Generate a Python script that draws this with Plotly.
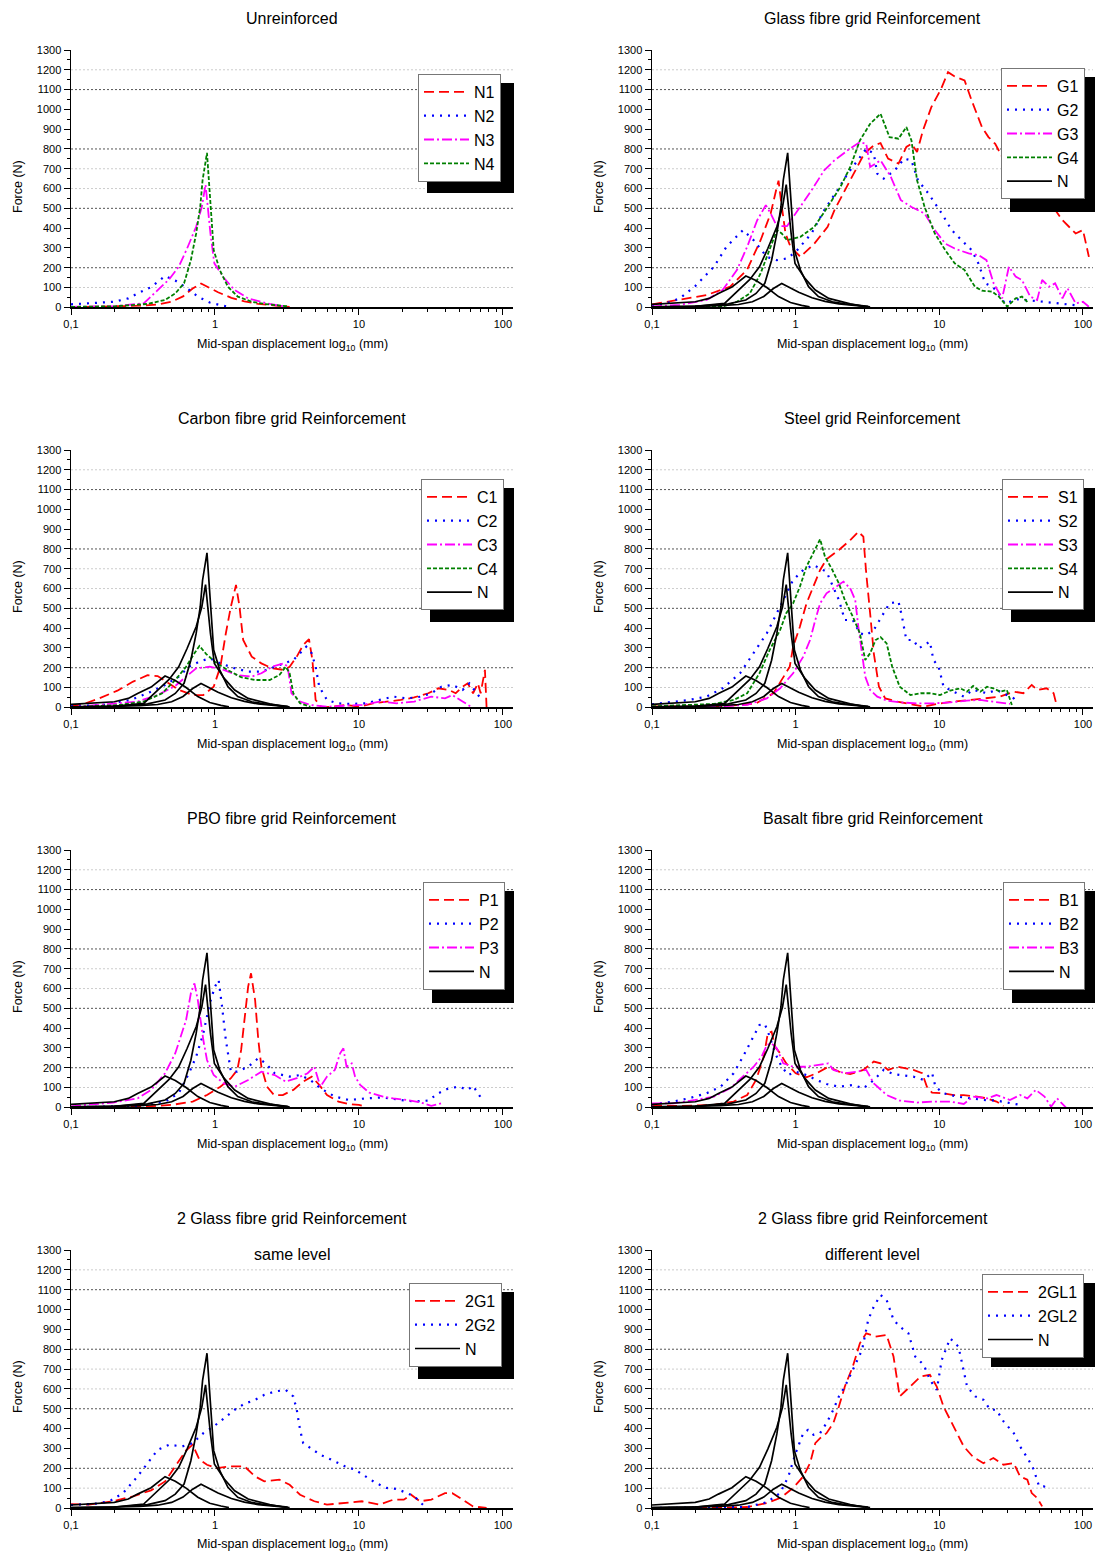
import plotly.graph_objects as go

W, H = 1099, 1559
FONT = "Liberation Sans, Arial, sans-serif"

# ---------------- data (displacement mm, force N) ----------------
N1_X = [0.1, 0.2, 0.3, 0.4, 0.5, 0.6, 0.7, 0.8, 0.9, 1.05, 1.3, 1.6, 2.0, 2.5, 3.3]
N1_Y = [0, 3, 8, 14, 28, 55, 95, 120, 102, 76, 48, 30, 17, 10, 2]
N2_X = [0.1, 0.14, 0.2, 0.25, 0.29, 0.36, 0.45, 0.53, 0.63, 0.76, 0.92, 1.1, 1.25]
N2_Y = [15, 20, 28, 45, 70, 102, 158, 135, 100, 54, 24, 10, 2]
N3_X = [0.1, 0.2, 0.32, 0.38, 0.48, 0.56, 0.64, 0.74, 0.81, 0.86, 0.9, 0.93, 0.99, 1.16, 1.37, 1.7, 2.4, 3.0]
N3_Y = [2, 5, 20, 70, 141, 205, 297, 407, 507, 620, 474, 373, 222, 146, 87, 45, 17, 5]
N4_X = [0.1, 0.2, 0.34, 0.45, 0.53, 0.61, 0.68, 0.74, 0.79, 0.82, 0.88, 0.91, 0.94, 0.98, 1.08, 1.23, 1.44, 1.8, 2.2, 2.6, 3.2]
N4_Y = [2, 5, 17, 37, 70, 121, 238, 373, 507, 642, 780, 642, 474, 289, 188, 104, 54, 28, 17, 12, 5]

G1_X = [0.1, 0.156, 0.24, 0.35, 0.46, 0.57, 0.67, 0.74, 0.76, 0.79, 0.85, 0.92, 1.08, 1.35, 1.67, 1.86, 2.2, 2.6, 3.0, 3.5, 3.9, 4.4, 5.2, 5.9, 6.4, 7.0, 7.7, 8.8, 10.3, 11.5, 12.8, 15, 16.8, 19.8, 22, 24.5, 27.4, 35, 45, 55, 62, 72, 80, 89, 100, 110]
G1_Y = [15, 37, 62, 104, 191, 339, 474, 608, 640, 541, 373, 306, 255, 322, 407, 490, 591, 692, 776, 818, 830, 751, 726, 810, 826, 785, 894, 1011, 1104, 1188, 1166, 1146, 1045, 911, 860, 826, 760, 690, 600, 530, 507, 440, 407, 373, 390, 255]
G2_X = [0.1, 0.126, 0.156, 0.2, 0.27, 0.33, 0.43, 0.51, 0.63, 0.74, 0.87, 1.0, 1.29, 1.58, 1.95, 2.3, 2.7, 3.1, 3.5, 3.7, 4.1, 4.9, 5.7, 6.4, 7.1, 8.4, 10.4, 12.2, 14.3, 16.8, 18.7, 20.9, 23.4, 26, 28.5, 35, 50, 70, 90]
G2_Y = [10, 20, 45, 107, 205, 306, 390, 339, 255, 238, 247, 280, 373, 490, 591, 675, 742, 801, 776, 675, 650, 692, 751, 742, 642, 575, 474, 390, 339, 289, 222, 121, 104, 70, 20, 40, 30, 20, 10]
G3_X = [0.1, 0.156, 0.24, 0.31, 0.39, 0.46, 0.54, 0.62, 0.67, 0.74, 0.87, 1.0, 1.29, 1.58, 1.86, 2.3, 2.8, 3.1, 3.3, 3.9, 4.6, 5.4, 6.4, 7.9, 9.3, 11, 12.8, 16, 18.7, 21.3, 23.9, 27.4, 30.5, 34, 37.6, 43, 48, 52, 58, 64, 72, 78, 89, 100, 110]
G3_Y = [5, 12, 37, 87, 188, 306, 440, 516, 474, 410, 410, 474, 591, 692, 742, 793, 835, 826, 709, 742, 659, 541, 507, 474, 390, 322, 297, 272, 264, 238, 121, 45, 205, 155, 138, 54, 37, 138, 104, 121, 45, 96, 20, 28, 3]
G4_X = [0.1, 0.31, 0.39, 0.48, 0.57, 0.67, 0.74, 0.8, 0.87, 1.08, 1.35, 1.67, 2.05, 2.4, 2.8, 3.3, 3.9, 4.5, 5.2, 5.9, 6.4, 7.0, 7.9, 9.3, 11, 12.8, 15, 17.7, 19.8, 23.4, 26, 29.7, 34, 37.6, 42]
G4_Y = [0, 3, 28, 70, 171, 306, 390, 373, 339, 356, 407, 507, 608, 709, 843, 927, 978, 860, 852, 911, 843, 642, 507, 373, 289, 222, 188, 104, 84, 79, 54, 3, 45, 54, 20]

C1_X = [0.1, 0.126, 0.157, 0.21, 0.27, 0.34, 0.4, 0.47, 0.56, 0.7, 0.83, 0.98, 1.09, 1.19, 1.29, 1.4, 1.48, 1.57, 1.8, 2.1, 2.5, 3.0, 3.3, 3.7, 4.1, 4.5, 4.75, 5.0, 5.5, 6.4, 8.0, 10, 12.5, 15.6, 19.5, 24.2, 30.3, 35.6, 42, 47, 52.5, 57, 62, 67, 70, 75, 77]
C1_Y = [5, 20, 45, 84, 130, 162, 158, 125, 88, 62, 62, 104, 205, 374, 509, 618, 509, 340, 256, 222, 197, 189, 205, 256, 315, 344, 239, 37, 0, 3, 12, 3, 20, 29, 37, 50, 71, 96, 88, 71, 104, 121, 71, 121, 71, 189, 0]
C2_X = [0.1, 0.166, 0.26, 0.34, 0.45, 0.56, 0.66, 0.78, 0.92, 1.09, 1.37, 1.7, 2.1, 2.6, 3.1, 3.5, 3.9, 4.3, 4.7, 5.0, 5.3, 6.0, 7.1, 8.9, 11.1, 13.9, 17.3, 21.6, 27, 31.8, 37.4, 44.5, 52.5, 58.5, 65.5, 70]
C2_Y = [5, 12, 37, 71, 113, 155, 205, 231, 248, 222, 197, 180, 180, 205, 222, 239, 273, 306, 273, 205, 104, 37, 20, 17, 20, 37, 54, 45, 54, 71, 104, 113, 88, 121, 71, 45]
C3_X = [0.1, 0.166, 0.29, 0.4, 0.53, 0.63, 0.74, 0.92, 1.15, 1.43, 1.8, 2.1, 2.5, 3.0, 3.2, 3.4, 3.9, 4.6, 6, 8, 10.5, 13.9, 18.3, 24.2, 31.8, 39.6, 44.5, 52.5, 60]
C3_Y = [0, 12, 29, 62, 108, 155, 197, 205, 189, 163, 155, 172, 205, 222, 205, 71, 29, 12, 3, 8, 12, 29, 20, 29, 54, 45, 62, 29, 3]
C4_X = [0.1, 0.22, 0.32, 0.43, 0.53, 0.63, 0.72, 0.78, 0.87, 1.03, 1.22, 1.52, 1.9, 2.4, 2.8, 3.1, 3.3, 3.5, 3.9, 4.6]
C4_Y = [0, 12, 29, 71, 138, 205, 273, 310, 269, 222, 189, 152, 138, 138, 163, 205, 172, 71, 20, 3]

S1_X = [0.1, 0.27, 0.41, 0.53, 0.7, 0.82, 0.91, 0.96, 1.07, 1.19, 1.33, 1.48, 1.64, 2.0, 2.4, 2.73, 2.96, 3.1, 3.3, 3.5, 3.8, 4.2, 5.1, 6.3, 7.8, 9.6, 12.5, 16.4, 21.5, 26.5, 33, 38.5, 44, 48, 56, 62.5, 66]
S1_Y = [5, 3, 12, 20, 71, 155, 205, 306, 407, 525, 609, 694, 748, 795, 845, 887, 862, 677, 475, 273, 104, 45, 29, 17, 3, 17, 29, 37, 45, 54, 79, 71, 113, 88, 96, 71, 3]
S2_X = [0.1, 0.14, 0.18, 0.24, 0.31, 0.41, 0.51, 0.63, 0.78, 0.96, 1.13, 1.33, 1.64, 1.83, 2.0, 2.2, 2.5, 2.8, 3.1, 3.5, 3.9, 4.5, 5.2, 5.5, 5.9, 6.6, 7.2, 7.8, 8.6, 9.1, 9.9, 10.7, 12.5, 14.8, 17.2, 21.5, 25, 29.5, 33, 35]
S2_Y = [15, 29, 37, 54, 96, 172, 273, 374, 509, 643, 694, 719, 685, 609, 542, 441, 441, 374, 365, 391, 450, 525, 534, 458, 340, 340, 298, 315, 332, 239, 205, 104, 79, 54, 88, 71, 88, 62, 45, 20]
S3_X = [0.1, 0.27, 0.46, 0.63, 0.78, 0.96, 1.13, 1.26, 1.37, 1.48, 1.64, 1.93, 2.15, 2.4, 2.6, 2.73, 2.9, 3.05, 3.3, 3.7, 4.3, 5.3, 7, 9.1, 11.9, 15.6, 19.3, 23.8, 28, 31]
S3_Y = [0, 3, 12, 45, 96, 172, 256, 340, 441, 525, 576, 609, 635, 601, 542, 408, 273, 155, 88, 54, 34, 25, 20, 20, 25, 34, 37, 29, 20, 17]
S4_X = [0.1, 0.27, 0.37, 0.46, 0.56, 0.66, 0.78, 0.86, 0.96, 1.07, 1.19, 1.33, 1.48, 1.6, 1.8, 2.0, 2.2, 2.5, 2.8, 3.05, 3.3, 3.6, 3.9, 4.3, 4.7, 5.3, 6.3, 7.4, 8.6, 10.1, 11.9, 14, 15.6, 17.2, 19.3, 21.5, 23.8, 26.5, 29.5, 32]
S4_Y = [5, 17, 37, 71, 172, 290, 391, 475, 525, 609, 711, 778, 849, 761, 694, 626, 542, 458, 374, 239, 273, 340, 354, 323, 205, 104, 62, 71, 71, 62, 84, 96, 79, 108, 79, 104, 96, 79, 88, 12]

P1_X = [0.1, 0.32, 0.5, 0.7, 0.88, 1.09, 1.29, 1.43, 1.52, 1.62, 1.7, 1.78, 1.9, 2.0, 2.1, 2.3, 2.57, 2.96, 3.5, 4.1, 4.7, 5.3, 6.0, 7.2, 8.4, 10, 11.1]
P1_Y = [0, 3, 12, 29, 62, 104, 147, 189, 290, 458, 610, 677, 542, 340, 205, 104, 62, 62, 88, 130, 155, 113, 62, 29, 17, 12, 3]
P2_X = [0.1, 0.29, 0.45, 0.56, 0.66, 0.74, 0.83, 0.92, 1.0, 1.06, 1.12, 1.19, 1.29, 1.43, 1.7, 2.0, 2.25, 2.6, 3.3, 3.9, 4.6, 5.4, 6.8, 8.5, 11.1, 14.7, 19.5, 24.2, 30.3, 35.6, 42, 49.5, 57, 62, 69.5, 73]
P2_Y = [0, 7, 29, 71, 172, 256, 374, 525, 610, 643, 509, 340, 180, 180, 205, 248, 222, 172, 155, 163, 138, 96, 54, 37, 45, 50, 37, 29, 34, 71, 96, 104, 88, 108, 54, 29]
P3_X = [0.1, 0.126, 0.196, 0.29, 0.36, 0.45, 0.53, 0.63, 0.68, 0.72, 0.76, 0.83, 0.88, 0.98, 1.15, 1.37, 1.7, 2.1, 2.6, 3.1, 3.7, 4.4, 4.9, 5.4, 6.0, 6.8, 7.4, 7.8, 8.2, 8.9, 9.4, 10.2, 11.8, 14.7, 17.3, 21.6, 27, 31.8, 37.4]
P3_Y = [5, 12, 24, 45, 88, 172, 273, 441, 576, 626, 542, 340, 239, 163, 121, 104, 138, 180, 163, 130, 147, 172, 205, 104, 155, 189, 273, 298, 205, 222, 155, 113, 74, 54, 45, 37, 24, 7, 20]

B1_X = [0.1, 0.156, 0.27, 0.37, 0.46, 0.53, 0.6, 0.64, 0.68, 0.72, 0.78, 0.86, 1.0, 1.19, 1.4, 1.69, 2.0, 2.4, 2.96, 3.5, 3.9, 4.4, 5.1, 5.8, 6.6, 7.6, 8.2, 8.9, 10.7, 12.6, 14.8, 18.3, 21.5, 25, 28]
B1_Y = [10, 7, 12, 29, 62, 138, 256, 374, 382, 306, 273, 222, 172, 152, 172, 205, 180, 168, 189, 231, 222, 189, 205, 197, 189, 172, 104, 74, 71, 62, 62, 54, 45, 29, 7]
B2_X = [0.1, 0.14, 0.18, 0.24, 0.3, 0.37, 0.43, 0.51, 0.56, 0.61, 0.66, 0.72, 0.8, 0.89, 1.0, 1.19, 1.4, 1.64, 2.0, 2.5, 2.96, 3.5, 4.1, 4.8, 5.6, 6.6, 7.8, 8.9, 9.4, 10.7, 13.3, 16.4, 20.3, 25, 31, 36.5]
B2_Y = [15, 29, 45, 71, 104, 172, 256, 357, 416, 421, 357, 273, 205, 163, 180, 163, 138, 118, 104, 113, 96, 138, 189, 168, 163, 155, 138, 175, 104, 71, 54, 45, 37, 34, 20, 12]
B3_X = [0.1, 0.14, 0.2, 0.27, 0.35, 0.43, 0.51, 0.58, 0.63, 0.68, 0.74, 0.82, 0.96, 1.19, 1.48, 1.69, 1.83, 2.2, 2.66, 3.1, 3.5, 4.3, 5.3, 7.0, 9.1, 11.9, 14.8, 17.2, 21.5, 25, 31, 36.5, 41, 47, 54, 60, 66, 76]
B3_Y = [20, 20, 37, 54, 96, 155, 205, 256, 315, 323, 298, 222, 205, 205, 214, 222, 189, 172, 180, 189, 121, 62, 34, 24, 29, 29, 17, 54, 45, 62, 37, 62, 45, 88, 54, 3, 45, 0]

G21_X = [0.1, 0.133, 0.196, 0.27, 0.36, 0.45, 0.53, 0.63, 0.7, 0.78, 0.88, 1.03, 1.29, 1.6, 1.9, 2.2, 2.8, 3.3, 3.9, 4.9, 6.0, 8, 10.5, 13.9, 17.3, 20.5, 23, 26.5, 31.8, 39.6, 44.5, 52.5, 62, 77]
G21_Y = [20, 17, 34, 59, 89, 134, 210, 290, 319, 243, 218, 201, 210, 210, 159, 134, 143, 117, 67, 34, 17, 25, 34, 17, 42, 42, 67, 34, 42, 75, 75, 42, 8, 0]
G22_X = [0.1, 0.15, 0.185, 0.23, 0.29, 0.34, 0.4, 0.48, 0.59, 0.7, 0.83, 0.98, 1.15, 1.37, 1.6, 1.9, 2.2, 2.6, 3.1, 3.5, 3.7, 3.9, 4.1, 4.6, 5.4, 6.8, 8, 9.4, 11.1, 13.1, 15.6, 18.3, 21.6, 24.2, 27, 29.4]
G22_Y = [15, 22, 34, 75, 159, 226, 293, 319, 310, 327, 377, 411, 453, 495, 525, 545, 570, 587, 595, 562, 495, 394, 327, 302, 268, 235, 210, 193, 159, 126, 101, 96, 75, 59, 25, 0]

GL1_X = [0.1, 0.3, 0.46, 0.63, 0.78, 0.96, 1.13, 1.26, 1.37, 1.48, 1.64, 1.83, 2.0, 2.2, 2.5, 2.8, 3.1, 3.6, 4.3, 4.8, 5.3, 6.3, 7.4, 8.6, 9.6, 10.7, 12.6, 14.8, 17.2, 20.3, 23.8, 28, 33, 36.5, 41, 44, 48, 52]
GL1_Y = [0, 0, 5, 25, 50, 101, 159, 226, 327, 352, 377, 428, 511, 612, 713, 830, 880, 864, 872, 763, 562, 612, 662, 671, 612, 511, 411, 310, 257, 226, 252, 218, 226, 159, 143, 75, 50, 8]
GL2_X = [0.1, 0.46, 0.63, 0.78, 0.89, 1.0, 1.13, 1.22, 1.33, 1.48, 1.64, 1.83, 2.0, 2.2, 2.5, 2.9, 3.2, 3.5, 3.9, 4.3, 4.8, 5.3, 6.1, 6.8, 7.8, 8.6, 9.6, 10.4, 11.9, 13.6, 15.6, 17.8, 20.3, 22.6, 25, 28, 33, 36.5, 41.8, 45.5, 49.5, 53.5, 59]
GL2_Y = [0, 5, 29, 75, 159, 277, 377, 394, 369, 377, 428, 495, 562, 612, 696, 797, 948, 1015, 1073, 1048, 948, 914, 880, 763, 721, 646, 595, 746, 855, 813, 612, 562, 545, 495, 495, 436, 377, 310, 243, 193, 109, 109, 92]

X_TICKS = [0.1, 1, 10, 100]
X_TICKTEXT = ["0,1", "1", "10", "100"]
X_MINOR = [0.2, 0.3, 0.4, 0.5, 0.6, 0.7, 0.8, 0.9, 2, 3, 4, 5, 6, 7, 8, 9,
           20, 30, 40, 50, 60, 70, 80, 90]
Y_TICKS = list(range(0, 1301, 100))
GRID_DARK = [200, 500, 800, 1100]
GRID_LIGHT = [100, 600, 700, 1200]

# ---------------- styles ----------------
RED = dict(color="#FF0000", dash="10px,5px", width=1.8)
BLUE = dict(color="#0000FF", dash="2px,6px", width=2.2)
MAG = dict(color="#FF00FF", dash="10px,3px,2px,3px", width=1.8)
GRN = dict(color="#008000", dash="4px,2px", width=1.8)
BLK = dict(color="#000000", width=1.7)

N_SET = [(N1_X, N1_Y), (N2_X, N2_Y), (N3_X, N3_Y), (N4_X, N4_Y)]

panels = [
    dict(title="Unreinforced", sub=None, col=0, row=0, withN=False,
         series=[("N1", N1_X, N1_Y, RED), ("N2", N2_X, N2_Y, BLUE),
                 ("N3", N3_X, N3_Y, MAG), ("N4", N4_X, N4_Y, GRN)],
         leg=(418, 74, 87, 110)),
    dict(title="Glass fibre grid Reinforcement", sub=None, col=1, row=0, withN=True,
         series=[("G1", G1_X, G1_Y, RED), ("G2", G2_X, G2_Y, BLUE),
                 ("G3", G3_X, G3_Y, MAG), ("G4", G4_X, G4_Y, GRN)],
         leg=(1001, 68, 85, 135)),
    dict(title="Carbon fibre grid Reinforcement", sub=None, col=0, row=1, withN=True,
         series=[("C1", C1_X, C1_Y, RED), ("C2", C2_X, C2_Y, BLUE),
                 ("C3", C3_X, C3_Y, MAG), ("C4", C4_X, C4_Y, GRN)],
         leg=(421, 479, 84, 134)),
    dict(title="Steel grid Reinforcement", sub=None, col=1, row=1, withN=True,
         series=[("S1", S1_X, S1_Y, RED), ("S2", S2_X, S2_Y, BLUE),
                 ("S3", S3_X, S3_Y, MAG), ("S4", S4_X, S4_Y, GRN)],
         leg=(1002, 479, 84, 134)),
    dict(title="PBO fibre grid Reinforcement", sub=None, col=0, row=2, withN=True,
         series=[("P1", P1_X, P1_Y, RED), ("P2", P2_X, P2_Y, BLUE),
                 ("P3", P3_X, P3_Y, MAG)],
         leg=(423, 882, 82, 112)),
    dict(title="Basalt fibre grid Reinforcement", sub=None, col=1, row=2, withN=True,
         series=[("B1", B1_X, B1_Y, RED), ("B2", B2_X, B2_Y, BLUE),
                 ("B3", B3_X, B3_Y, MAG)],
         leg=(1003, 882, 83, 112)),
    dict(title="2 Glass fibre grid Reinforcement", sub="same level", col=0, row=3, withN=True,
         series=[("2G1", G21_X, G21_Y, RED), ("2G2", G22_X, G22_Y, BLUE)],
         leg=(409, 1283, 96, 87)),
    dict(title="2 Glass fibre grid Reinforcement", sub="different level", col=1, row=3, withN=True,
         series=[("2GL1", GL1_X, GL1_Y, RED), ("2GL2", GL2_X, GL2_Y, BLUE)],
         leg=(982, 1274, 104, 84)),
]

COLS = [(71, 513), (652, 1093)]
ROW_TOP = [50, 450, 850, 1250]
ROW_BOT = [307.3, 707.3, 1107.3, 1508]

fig = go.Figure()
layout = dict(width=W, height=H, margin=dict(l=0, r=0, t=0, b=0, pad=0),
              paper_bgcolor="white", plot_bgcolor="white",
              font=dict(family=FONT, color="black"), shapes=[], annotations=[])

for i, p in enumerate(panels):
    k = i + 1
    sfx = "" if k == 1 else str(k)
    xa, ya = "x" + sfx, "y" + sfx
    legname = "legend" + sfx
    for name, xs, ys, st in p["series"]:
        fig.add_trace(go.Scatter(x=xs, y=ys, mode="lines", name=name, line=st,
                                 xaxis=xa, yaxis=ya, legend=legname))
    if p["withN"]:
        for j, (xs, ys) in enumerate(N_SET):
            fig.add_trace(go.Scatter(x=xs, y=ys, mode="lines", name="N", line=BLK,
                                     xaxis=xa, yaxis=ya, legend=legname,
                                     legendgroup="N%d" % k, showlegend=(j == 0)))
    c0, c1 = COLS[p["col"]]
    t, b = ROW_TOP[p["row"]], ROW_BOT[p["row"]]
    layout["xaxis" + sfx] = dict(
        type="log", range=[-1, 2.07], domain=[c0 / W, c1 / W], anchor=ya,
        tickmode="array", tickvals=X_TICKS, ticktext=X_TICKTEXT,
        ticks="outside", ticklen=6, tickwidth=1, tickcolor="black",
        minor=dict(ticks="outside", ticklen=3.5, tickwidth=1, tickcolor="black",
                   tickmode="array", tickvals=X_MINOR, showgrid=False),
        showline=True, linecolor="black", linewidth=1.5, showgrid=False, zeroline=False,
        automargin=False,
        tickfont=dict(family=FONT, size=11, color="black"), fixedrange=True)
    layout["yaxis" + sfx] = dict(
        range=[0, 1300], domain=[1 - b / H, 1 - t / H], anchor=xa,
        tickmode="array", tickvals=Y_TICKS,
        ticks="outside", ticklen=6, tickwidth=1, tickcolor="black",
        minor=dict(ticks="outside", ticklen=3, tickwidth=1, tickcolor="black",
                   dtick=50, showgrid=False),
        showline=True, linecolor="black", linewidth=1.5, showgrid=False, zeroline=False,
        automargin=False,
        tickfont=dict(family=FONT, size=11, color="black"), fixedrange=True)
    for g in GRID_DARK:
        layout["shapes"].append(dict(type="line", xref=xa + " domain", yref=ya,
                                     x0=0, x1=1, y0=g, y1=g, layer="below",
                                     line=dict(color="#555555", width=1, dash="2px,2px")))
    for g in GRID_LIGHT:
        layout["shapes"].append(dict(type="line", xref=xa + " domain", yref=ya,
                                     x0=0, x1=1, y0=g, y1=g, layer="below",
                                     line=dict(color="#cccccc", width=1, dash="2px,2px")))
    lx, ly, lw, lh = p["leg"]
    layout["shapes"].append(dict(type="rect", xref="paper", yref="paper",
                                 x0=(lx + 9) / W, x1=(lx + lw + 9) / W,
                                 y0=1 - (ly + lh + 9) / H, y1=1 - (ly + 9) / H,
                                 fillcolor="black", line=dict(width=0), layer="above"))
    layout[legname] = dict(x=lx / W, y=1 - ly / H, xanchor="left", yanchor="top",
                           bgcolor="white", bordercolor="#777777", borderwidth=1,
                           font=dict(family=FONT, size=16, color="black"),
                           itemwidth=45, tracegroupgap=0, traceorder="normal")
    cx = (c0 + c1) / 2 / W
    layout["annotations"].append(dict(text=p["title"], xref="paper", yref="paper",
                                      x=cx, y=1 - (18 + 400 * p["row"]) / H,
                                      showarrow=False, xanchor="center", yanchor="middle",
                                      font=dict(family=FONT, size=16, color="black")))
    if p["sub"]:
        layout["annotations"].append(dict(text=p["sub"], xref="paper", yref="paper",
                                          x=cx, y=1 - (1254) / H,
                                          showarrow=False, xanchor="center", yanchor="middle",
                                          font=dict(family=FONT, size=16, color="black")))
    layout["annotations"].append(dict(text="Mid-span displacement log<sub>10</sub> (mm)",
                                      xref="paper", yref="paper",
                                      x=cx, y=1 - (345 + 400 * p["row"]) / H,
                                      showarrow=False, xanchor="center", yanchor="middle",
                                      font=dict(family=FONT, size=12.5, color="black")))
    layout["annotations"].append(dict(text="Force (N)", xref="paper", yref="paper",
                                      x=(c0 - 53) / W, y=1 - (187 + 400 * p["row"]) / H,
                                      showarrow=False, xanchor="center", yanchor="middle",
                                      textangle=-90,
                                      font=dict(family=FONT, size=12.5, color="black")))

fig.update_layout(**layout)
fig.write_html("out.html",
               config={"displayModeBar": False, "staticPlot": True},
               post_script="document.body.style.margin='0';"
                           "document.body.style.padding='0';"
                           "document.documentElement.style.overflow='hidden';"
                           "document.body.style.overflow='hidden';")
